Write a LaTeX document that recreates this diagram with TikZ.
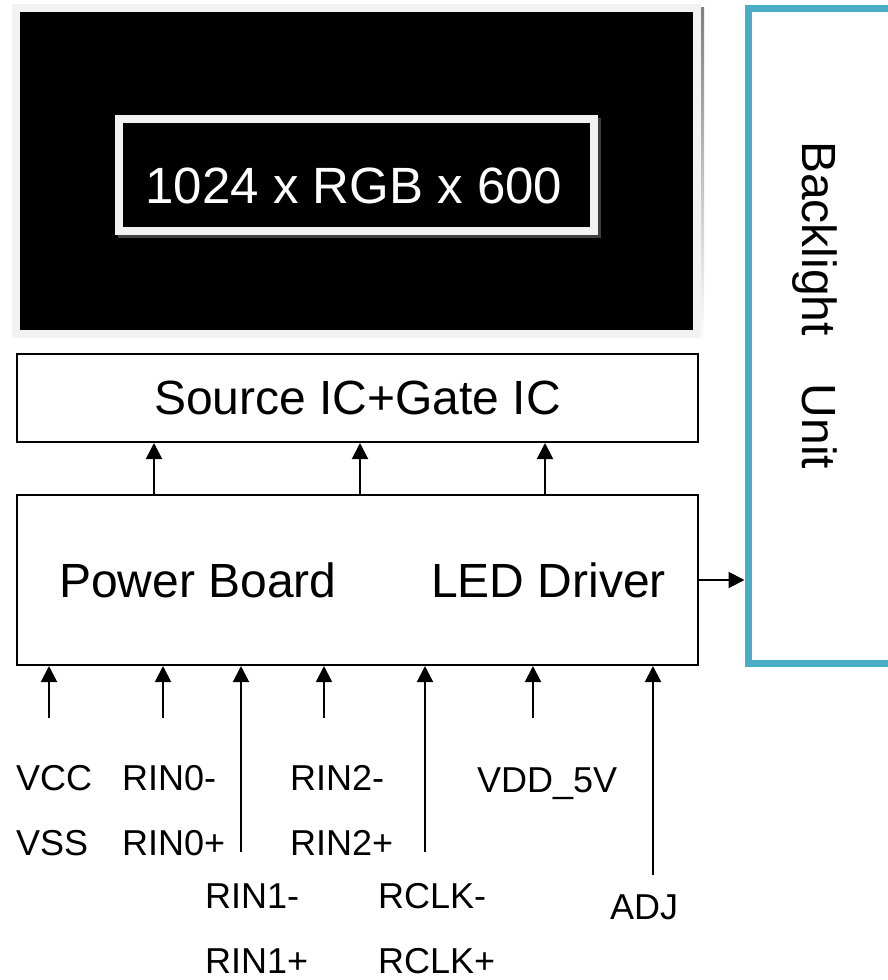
\documentclass[tikz,border=0pt]{standalone}
\usepackage{fontspec}
\setmainfont{Liberation Sans}
\usetikzlibrary{arrows.meta}

\definecolor{frame}{HTML}{F2F2F2}
\definecolor{shade}{HTML}{BFBFBF}
\definecolor{bluframe}{HTML}{4BACC6}

\tikzset{
  box/.style={draw=black, line width=2pt, fill=white, inner sep=0pt, anchor=north west},
  sig/.style={line width=2pt, -{Triangle[length=16pt,width=16pt]}},
  pin/.style={anchor=base west, inner sep=0pt, font=\fontsize{36}{40}\selectfont},
  big/.style={font=\fontsize{48}{56}\selectfont}
}

\begin{document}
\begin{tikzpicture}[x=1pt,y=-1pt]
\useasboundingbox (0,0) rectangle (888,980);

%draw the panel
\fill[shade] (15,7) rectangle (704,341);
\fill[frame] (12,4) rectangle (701,338);
\fill[black] (20,12) rectangle (693,330);
\fill[black!75] (118,118) rectangle (601,238);
\fill[frame] (115,115) rectangle (598,235);
\fill[black] (123,123) rectangle (590,227);
\node [anchor=base, inner sep=0pt, text=white, font=\fontsize{51}{56}\selectfont] (res) at (354,203) {1024 x RGB x 600};

%draw the backlight unit
\draw [bluframe, line width=7pt] (892,8) -- (748,8) -- (748,663) -- (892,663);
\coordinate (blu) at (744.5,579);
\node [big, rotate=-90, anchor=base west, inner sep=0pt] (blt) at (802,141) {Backlight\hspace{48pt}Unit};

%draw the boards
\node [box, big, minimum width=681pt, minimum height=88pt] (srcic) at (16,353) {Source IC+Gate IC};
\node [box, minimum width=681pt, minimum height=170pt] (pwr) at (16,494) {};
\node [big, anchor=base west, inner sep=0pt] (pb) at (59,597) {Power Board};
\node [big, anchor=base west, inner sep=0pt] (led) at (431,597) {LED Driver};

%arrows between the boards
\foreach \x in {154,360,545}
  \draw [sig] (\x,0 |- pwr.north) -- (\x,0 |- srcic.south);
\draw [sig] (pwr.east) -- (pwr.east -| blu);

%input signals
\foreach \x/\y in {49/718,163/718,241/852,324/718,425/852,533/718,653/875}
  \draw [sig] (\x,\y) -- (\x,0 |- pwr.south);

\node [pin] (vcc) at (16,790) {VCC};
\node [pin] (vss) at (16,855) {VSS};
\node [pin] (rin0m) at (122,790) {RIN0-};
\node [pin] (rin0p) at (122,855) {RIN0+};
\node [pin] (rin2m) at (290,790) {RIN2-};
\node [pin] (rin2p) at (290,855) {RIN2+};
\node [pin] (rin1m) at (205,908) {RIN1-};
\node [pin] (rin1p) at (205,973) {RIN1+};
\node [pin] (rclkm) at (378,908) {RCLK-};
\node [pin] (rclkp) at (378,973) {RCLK+};
\node [pin] (vdd) at (477,792) {VDD\_5V};
\node [pin] (adj) at (610,919) {ADJ};

\end{tikzpicture}
\end{document}
